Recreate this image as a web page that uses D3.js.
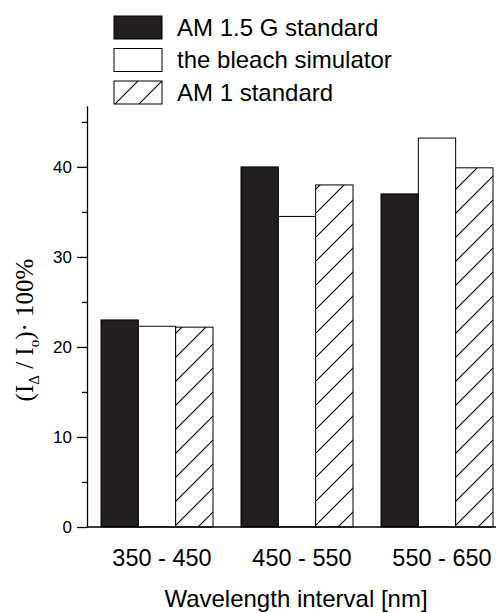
<!DOCTYPE html>
<html>
<head>
<meta charset="utf-8">
<script src="https://cdn.jsdelivr.net/npm/d3@7"></script>
<style>
  body { margin: 0; background: #fff; }
  svg { display: block; font-family: "Liberation Sans", Arial, sans-serif; }
  .bar { stroke: #000; stroke-width: 1; }
  .axis path, .axis line { stroke: #000; stroke-width: 1.3; }
</style>
</head>
<body>
<div id="container"></div>
<script>
  // chart data
  var categories = ["350 - 450", "450 - 550", "550 - 650"];
  var seriesNames = ["AM 1.5 G standard", "the bleach simulator", "AM 1 standard"];
  var am15g = [23.0, 40.0, 37.0];
  var bleach = [22.3, 34.5, 43.2];
  var am1 = [22.2, 38.0, 39.9];
  var majorTicks = [0, 10, 20, 30, 40];
  var minorTicks = [5, 15, 25, 35, 45];

  var series = [am15g, bleach, am1];
  var fills = ["#231f20", "#fff", "url(#hatch)"];

  var width = 496, height = 613;
  var left = 87, baseY = 527, topY = 105.7;

  var svg = d3.select("#container").append("svg")
    .attr("width", width)
    .attr("height", height);

  // diagonal hatch for the third series
  var hs = 24;
  var pat = svg.append("defs").append("pattern")
    .attr("id", "hatch")
    .attr("patternUnits", "userSpaceOnUse")
    .attr("width", hs)
    .attr("height", hs);
  pat.append("rect").attr("width", hs).attr("height", hs).attr("fill", "#fff");
  pat.append("path")
    .attr("d", "M-6,6 L6,-6 M0," + hs + " L" + hs + ",0 M" + (hs - 6) + "," + (hs + 6) + " L" + (hs + 6) + "," + (hs - 6))
    .attr("stroke", "#000")
    .attr("stroke-width", 1.1);

  var x = d3.scaleBand()
    .domain(categories)
    .range([left, left + 420])
    .paddingInner(0.2)
    .paddingOuter(0.1);

  var xSub = d3.scaleBand()
    .domain(d3.range(series.length))
    .range([0, x.bandwidth()]);

  var y = d3.scaleLinear()
    .domain([0, 46.8])
    .range([baseY, topY]);

  // bars
  var groups = svg.append("g").selectAll("g")
    .data(categories)
    .join("g")
    .attr("transform", function(d) { return "translate(" + x(d) + ",0)"; });

  groups.selectAll("rect")
    .data(function(d, i) { return series.map(function(s, k) { return { k: k, v: s[i] }; }); })
    .join("rect")
    .attr("class", "bar")
    .attr("x", function(d) { return xSub(d.k); })
    .attr("width", xSub.bandwidth())
    .attr("y", function(d) { return y(d.v); })
    .attr("height", function(d) { return baseY - y(d.v); })
    .attr("fill", function(d) { return fills[d.k]; });

  // y axis
  var yAxis = svg.append("g")
    .attr("class", "axis")
    .attr("transform", "translate(" + left + ",0)")
    .call(d3.axisLeft(y).tickValues(majorTicks).tickSize(10).tickPadding(5).tickSizeOuter(0));
  yAxis.selectAll(".tick text")
    .attr("font-size", "17px")
    .attr("font-family", "Liberation Sans, Arial, sans-serif")
    .attr("fill", "#000");

  svg.append("g")
    .attr("class", "axis")
    .attr("transform", "translate(" + left + ",0)")
    .call(d3.axisLeft(y).tickValues(minorTicks).tickSize(5).tickFormat("").tickSizeOuter(0))
    .call(function(g) { g.select(".domain").remove(); });

  // x axis
  var xAxis = svg.append("g")
    .attr("class", "axis")
    .attr("transform", "translate(0," + baseY + ")")
    .call(d3.axisBottom(x).tickSize(0).tickPadding(0).tickSizeOuter(0));
  xAxis.select(".domain").attr("d", "M" + left + ",0H" + width);
  xAxis.selectAll(".tick text")
    .attr("font-size", "23.5px")
    .attr("font-family", "Liberation Sans, Arial, sans-serif")
    .attr("fill", "#000")
    .attr("dx", 5)
    .attr("dy", 0)
    .attr("y", 39);

  // axis titles
  svg.append("text")
    .attr("x", 296)
    .attr("y", 607)
    .attr("text-anchor", "middle")
    .attr("font-size", "24px")
    .text("Wavelength interval [nm]");

  var yt = svg.append("text")
    .attr("transform", "translate(33,330) rotate(-90)")
    .attr("text-anchor", "middle")
    .attr("font-family", "Liberation Serif, Times New Roman, serif")
    .attr("font-size", "25px");
  yt.append("tspan").text("(I");
  yt.append("tspan").attr("font-size", "15px").attr("dy", 6).text("\u0394");
  yt.append("tspan").attr("dy", -6).text(" / I");
  yt.append("tspan").attr("font-size", "15px").attr("dy", 6).text("o");
  yt.append("tspan").attr("dy", -6).text(")\u00b7 100%");

  // legend
  var legend = svg.append("g").selectAll("g")
    .data(seriesNames)
    .join("g")
    .attr("transform", function(d, i) { return "translate(114," + (16 + i * 32.5) + ")"; });
  legend.append("rect")
    .attr("class", "bar")
    .attr("width", 48)
    .attr("height", 23)
    .attr("fill", function(d, i) { return fills[i]; });
  legend.append("text")
    .attr("x", 63)
    .attr("y", 19.5)
    .attr("font-size", "24px")
    .text(function(d) { return d; });
</script>
</body>
</html>
